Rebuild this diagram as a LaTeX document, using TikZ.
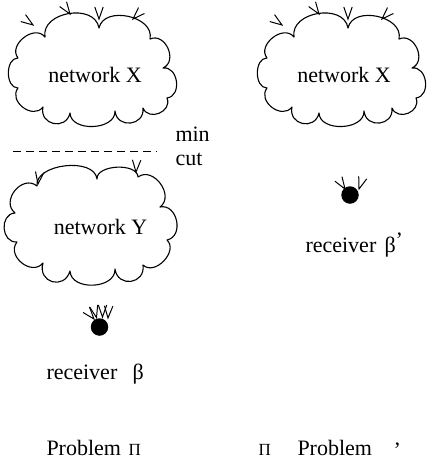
\documentclass[tikz,border=0pt]{standalone}
\usepackage{fontspec}
\setmainfont{Liberation Serif}
\tikzset{
  puff/.style={bend left=90,looseness=#1},
  vhead/.pic={\draw[line width=1pt] (-12pt,4.2pt) -- (0pt,0pt) -- (-12pt,-4.2pt);},
  lbl/.style={font=\fontsize{22}{26}\selectfont,inner sep=0pt,anchor=base west},
  greek/.style={font=\fontsize{17}{20}\selectfont,inner sep=0pt,anchor=base west},
  dotnode/.style={circle,fill=black,draw=none,minimum size=17.5pt,inner sep=0pt},
  cloudline/.style={line width=1.1pt,line join=round,line cap=round}
}
\begin{document}
\begin{tikzpicture}[x=1pt,y=-1pt,line width=1pt]
\useasboundingbox (0,0) rectangle (427,464);

% ---- cloud X (left) ----
\draw[cloudline] (45,37) to[puff=1.2] (99,28) to[puff=1.15] (150,39)
  to[puff=1.35] (163,68) to[puff=1.3] (167,98) to[puff=1.45] (143,108)
  to[puff=1.65] (115,111) to[puff=1.1] (70,113) to[puff=1.7] (43,107)
  to[puff=1.35] (18,88) to[puff=1.1] (18,58) to[puff=1.25] (45,37);
\node[lbl,anchor=base] (netXa) at (95,82) {network X};
\pic[rotate=-35] (ax1) at (33,25) {vhead};
\pic[rotate=-55] (ax2) at (70,14) {vhead};
\pic[rotate=-90] (ax3) at (99,19) {vhead};
\pic[rotate=-135] (ax4) at (133,19) {vhead};

% ---- min cut ----
\coordinate (cutL) at (13,151);
\coordinate (cutR) at (157,151);
\draw[dash pattern=on 8pt off 5pt] (cutL) -- (cutR);
\node[lbl] (min) at (175,141) {min};
\node[lbl] (cut) at (175,165) {cut};

% ---- cloud Y ----
\draw[cloudline] (37,186) to[puff=0.95] (97,179) to[puff=0.9] (138,177)
  to[puff=1.3] (160,207) to[puff=1.35] (167,240) to[puff=1.2] (143,265)
  to[puff=1.75] (115,269) to[puff=1.15] (70,271) to[puff=1.85] (43,263)
  to[puff=1.35] (17,242) to[puff=1.4] (15,213) to[puff=1.4] (37,186);
\node[lbl,anchor=base] (netY) at (100.5,234) {network Y};
\pic[rotate=-98] (ay1) at (38,184) {vhead};
\pic[rotate=-93] (ay2) at (136,172) {vhead};

% ---- receiver beta ----
\node[dotnode] (rb) at (99.5,327) {};
\pic[rotate=-50] (ar1) at (94,319) {vhead};
\pic[rotate=-76] (ar2) at (96.5,317.5) {vhead};
\pic[rotate=-90] (ar3) at (102.5,317) {vhead};
\pic[rotate=-93] (ar4) at (108,318) {vhead};
\node[lbl] (recv) at (46,379) {receiver};
\node[lbl] (beta) at (132,379) {β};

% ---- problem Pi ----
\node[lbl] (probA) at (46,455) {Problem};
\node[greek] (piA) at (128,455) {Π};

% ---- cloud X (right) ----
\begin{scope}[xshift=249pt]
\draw[cloudline] (45,37) to[puff=1.2] (99,28) to[puff=1.15] (150,39)
  to[puff=1.35] (163,68) to[puff=1.3] (167,98) to[puff=1.45] (143,108)
  to[puff=1.65] (115,111) to[puff=1.1] (70,113) to[puff=1.7] (43,107)
  to[puff=1.35] (18,88) to[puff=1.1] (18,58) to[puff=1.25] (45,37);
\node[lbl,anchor=base] (netXb) at (95,82) {network X};
\pic[rotate=-35] (bx1) at (33,25) {vhead};
\pic[rotate=-55] (bx2) at (70,14) {vhead};
\pic[rotate=-90] (bx3) at (99,19) {vhead};
\pic[rotate=-135] (bx4) at (133,19) {vhead};
\end{scope}

% ---- receiver beta' ----
\node[dotnode] (rb2) at (350,195) {};
\pic[rotate=-57] (bp1) at (345,189) {vhead};
\pic[rotate=-108] (bp2) at (359,189) {vhead};
\node[lbl] (recv2) at (305,252) {receiver};
\node[lbl] (beta2) at (384,252) {β};
\node[lbl] (prime2) at (395,247) {’};

% ---- problem Pi' ----
\node[greek] (piB) at (258,455) {Π};
\node[lbl] (probB) at (297,455) {Problem};
\node[lbl] (primeB) at (393,457) {’};
\end{tikzpicture}
\end{document}
